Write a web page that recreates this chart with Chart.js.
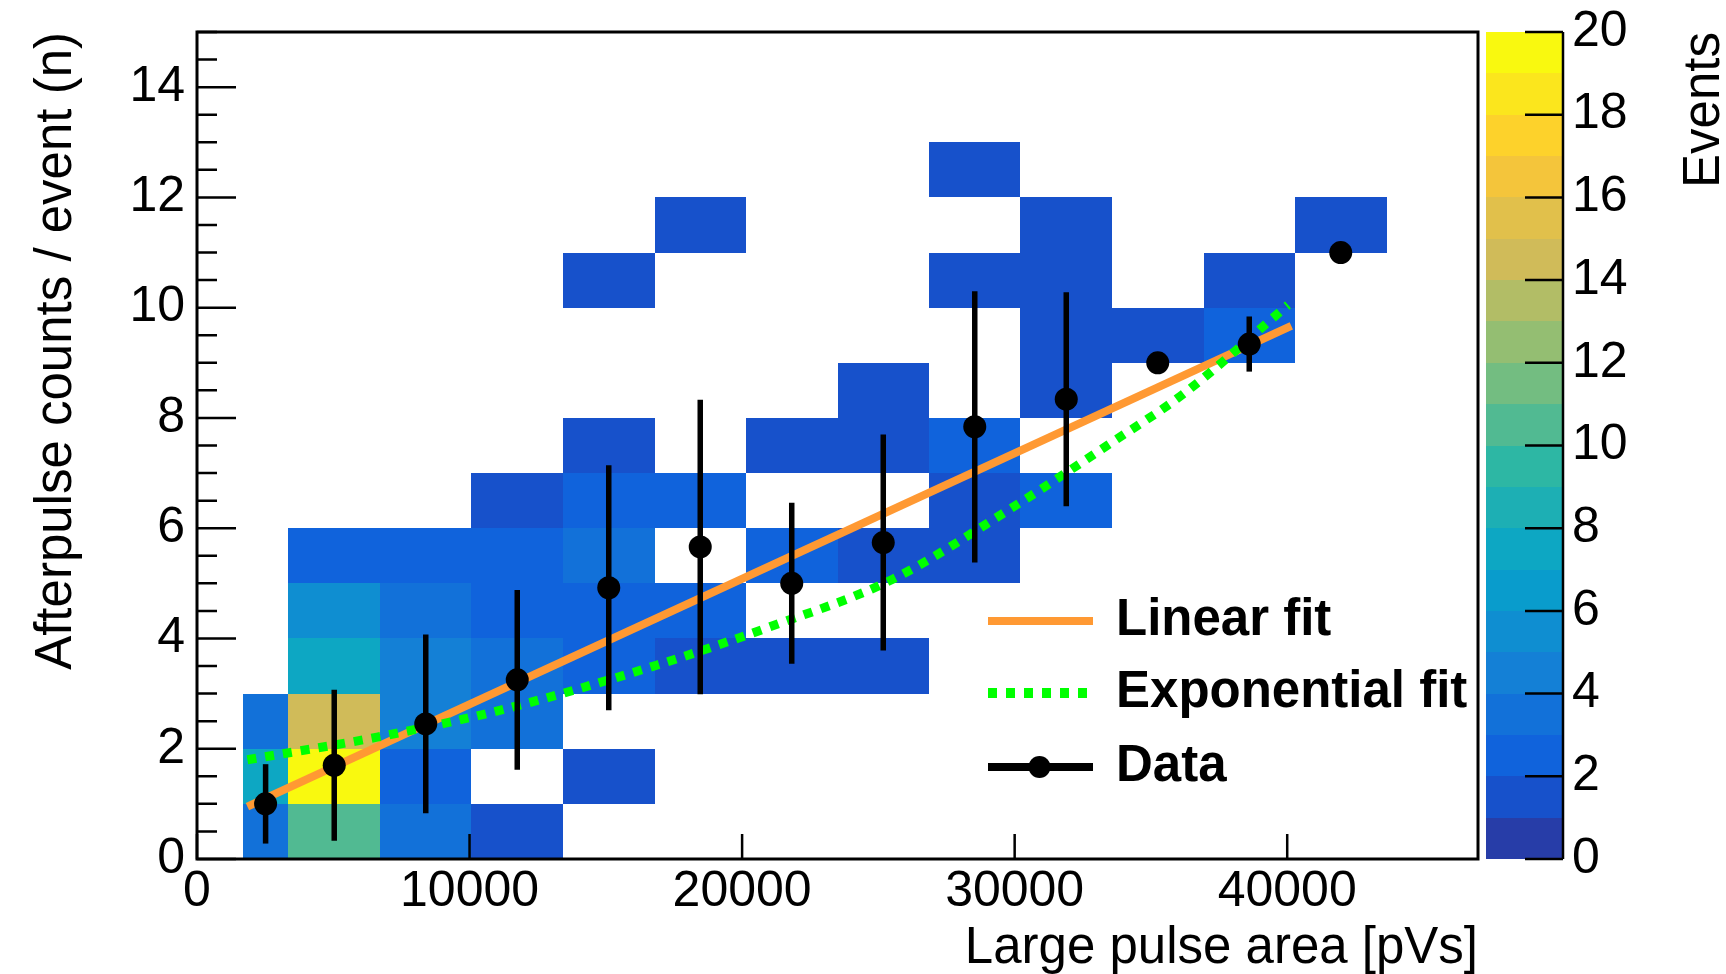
<!DOCTYPE html>
<html>
<head>
<meta charset="utf-8">
<script src="https://cdn.jsdelivr.net/npm/chart.js@4.4.0/dist/chart.umd.min.js"></script>
<style>
  html, body { margin: 0; padding: 0; background: #fff; }
</style>
</head>
<body>
<canvas id="c" width="1726" height="974"></canvas>
<script>
// 2D histogram: pulse area bins (pVs) x afterpulse count bins (n = 0, 1, 2, ...)
const xBinEdges = [1678, 3357, 6714, 10071, 13429, 16786, 20143, 23500, 26857, 30214, 33571, 36929, 40286, 43643];
// events per cell, one list per pulse-area bin, index = afterpulse count n
const histCounts = [
    [3, 7, 3],
    [10, 20, 14, 7, 5, 2],
    [3, 2, 4, 4, 3, 2],
    [1, 0, 3, 3, 2, 2, 1],
    [0, 1, 0, 2, 2, 3, 2, 1, 0, 0, 1],
    [0, 0, 0, 1, 2, 0, 2, 0, 0, 0, 0, 1],
    [0, 0, 0, 1, 0, 2, 0, 1],
    [0, 0, 0, 1, 0, 1, 0, 1, 1],
    [0, 0, 0, 0, 0, 1, 1, 2, 0, 0, 1, 0, 1],
    [0, 0, 0, 0, 0, 0, 2, 0, 1, 1, 1, 1],
    [0, 0, 0, 0, 0, 0, 0, 0, 0, 1],
    [0, 0, 0, 0, 0, 0, 0, 0, 0, 2, 1],
    [0, 0, 0, 0, 0, 0, 0, 0, 0, 0, 0, 1]
];

// mean afterpulse count per bin with error
const dataX = [2517, 5035, 8393, 11750, 15107, 18464, 21821, 25179, 28536, 31893, 35250, 38607, 41964];
const dataY = [1.0, 1.7, 2.45, 3.25, 4.92, 5.66, 5.0, 5.74, 7.84, 8.34, 9.0, 9.34, 11.0];
const dataErr = [0.72, 1.37, 1.62, 1.63, 2.22, 2.67, 1.46, 1.96, 2.46, 1.94, 0, 0.5, 0];

// fit curves
const linearFitX = [1850, 40150];
const linearFitY = [0.95, 9.67];
const expFitX = [1850, 6610, 11140, 16890, 20955, 25505, 29870, 33420, 36230, 40030];
const expFitY = [1.80, 2.21, 2.70, 3.52, 4.20, 5.07, 6.36, 7.51, 8.45, 10.05];

const xTickValues = [0, 10000, 20000, 30000, 40000];
const yTickValues = [0, 2, 4, 6, 8, 10, 12, 14];
const zTickValues = [0, 2, 4, 6, 8, 10, 12, 14, 16, 18, 20];

// ROOT kBird palette, 20 contour levels
const birdStops = [0, 0.125, 0.25, 0.375, 0.5, 0.625, 0.75, 0.875, 1];
const birdR = [0.2082, 0.0592, 0.0780, 0.0232, 0.1802, 0.5301, 0.8186, 0.9956, 0.9764];
const birdG = [0.1664, 0.3599, 0.5041, 0.6419, 0.7178, 0.7492, 0.7328, 0.7862, 0.9832];
const birdB = [0.5293, 0.8684, 0.8385, 0.7914, 0.6425, 0.4662, 0.3499, 0.1968, 0.0539];

function birdColor(f) {
    let k = 0;
    while (k < birdStops.length - 2 && f > birdStops[k + 1]) k++;
    const t = (f - birdStops[k]) / (birdStops[k + 1] - birdStops[k]);
    const c = arr => Math.round(255 * (arr[k] + (arr[k + 1] - arr[k]) * t));
    return `rgb(${c(birdR)},${c(birdG)},${c(birdB)})`;
}

const nLevels = 20;
const palette = [];
for (let i = 0; i < nLevels; i++) {
    palette.push(birdColor(Math.floor((i + 0.99) * 255 / nLevels) / 255));
}

const FONT = "'Liberation Sans', Arial, Helvetica, sans-serif";
const tickFont = { family: FONT, size: 50 };
const titleFont = { family: FONT, size: 51, lineHeight: 1.0 };
// invisible tick marks, only used to push the labels away from the axis
const hiddenGrid = len => ({ display: true, drawOnChartArea: false, drawTicks: true, tickLength: len, color: 'rgba(0,0,0,0)' });

const rootStyle = {
    id: 'rootStyle',
    beforeDatasetsDraw(chart) {
        const { ctx, chartArea: a, scales: { x, y } } = chart;
        ctx.save();
        ctx.beginPath();
        ctx.rect(a.left, a.top, a.right - a.left, a.bottom - a.top);
        ctx.clip();
        histCounts.forEach((col, i) => {
            const x0 = Math.round(x.getPixelForValue(xBinEdges[i]));
            const x1 = Math.round(x.getPixelForValue(xBinEdges[i + 1]));
            col.forEach((n, j) => {
                if (!n) return;
                const y0 = Math.round(y.getPixelForValue(j));
                const y1 = Math.round(y.getPixelForValue(j + 1));
                ctx.fillStyle = palette[Math.min(Math.floor(n + 0.01), nLevels - 1)];
                ctx.fillRect(x0, y1, x1 - x0, y0 - y1);
            });
        });
        ctx.restore();
    },
    beforeDatasetDraw(chart, args) {
        if (args.index !== 0) return;
        const { ctx, scales: { x, y } } = chart;
        ctx.save();
        ctx.strokeStyle = '#000';
        ctx.lineWidth = 5.5;
        dataX.forEach((v, i) => {
            if (!dataErr[i]) return;
            const px = x.getPixelForValue(v);
            ctx.beginPath();
            ctx.moveTo(px, y.getPixelForValue(dataY[i] - dataErr[i]));
            ctx.lineTo(px, y.getPixelForValue(dataY[i] + dataErr[i]));
            ctx.stroke();
        });
        ctx.restore();
    },
    afterDraw(chart) {
        const { ctx, chartArea: a, scales: { x, y, z } } = chart;
        ctx.save();
        ctx.strokeStyle = '#000';

        // frame
        ctx.lineWidth = 3;
        ctx.strokeRect(a.left, a.top, a.right - a.left, a.bottom - a.top);

        // inward ticks
        ctx.lineWidth = 2.5;
        ctx.beginPath();
        xTickValues.forEach(v => {
            const px = x.getPixelForValue(v);
            ctx.moveTo(px, a.bottom);
            ctx.lineTo(px, a.bottom - 25);
        });
        for (let v = 0; v <= 15; v += 0.5) {
            const py = y.getPixelForValue(v);
            const len = yTickValues.includes(v) ? 39 : 20;
            ctx.moveTo(a.left, py);
            ctx.lineTo(a.left + len, py);
        }
        ctx.stroke();

        // colour bar
        const cbL = a.right + 8, cbR = a.right + 85;
        for (let k = 0; k < nLevels; k++) {
            const y0 = Math.round(z.getPixelForValue(k));
            const y1 = Math.round(z.getPixelForValue(k + 1));
            ctx.fillStyle = palette[k];
            ctx.fillRect(cbL, y1, cbR - cbL, y0 - y1);
        }
        ctx.lineWidth = 2.5;
        ctx.beginPath();
        ctx.moveTo(cbR, z.getPixelForValue(0));
        ctx.lineTo(cbR, z.getPixelForValue(20));
        zTickValues.forEach(v => {
            const py = z.getPixelForValue(v);
            ctx.moveTo(cbR, py);
            ctx.lineTo(cbR - 38, py);
        });
        ctx.stroke();

        // colour axis title
        ctx.fillStyle = '#000';
        ctx.font = `51px ${FONT}`;
        ctx.translate(1705, a.top);
        ctx.rotate(-Math.PI / 2);
        ctx.textAlign = 'right';
        ctx.textBaseline = 'middle';
        ctx.fillText('Events', 0, 0);
        ctx.setTransform(1, 0, 0, 1, 0, 0);

        // legend
        const ds = chart.data.datasets;
        const lx0 = 988, lx1 = 1093, tx = 1116;
        const rows = [[ds[2], 621], [ds[1], 693], [ds[0], 767]];
        ctx.font = `bold 51px ${FONT}`;
        ctx.textAlign = 'left';
        ctx.textBaseline = 'middle';
        rows.forEach(([d, ly]) => {
            ctx.save();
            ctx.strokeStyle = d.legendColor;
            ctx.lineWidth = d.legendWidth;
            ctx.setLineDash(d.borderDash || []);
            ctx.beginPath();
            ctx.moveTo(lx0, ly);
            ctx.lineTo(lx1, ly);
            ctx.stroke();
            ctx.restore();
            if (d.label === 'Data') {
                ctx.beginPath();
                ctx.arc((lx0 + lx1) / 2 - 1, ly, 11, 0, 2 * Math.PI);
                ctx.fill();
            }
            ctx.fillText(d.label, tx, ly);
        });
        ctx.restore();
    }
};

new Chart(document.getElementById('c'), {
    type: 'line',
    data: {
        datasets: [
            {
                label: 'Data',
                data: dataX.map((v, i) => ({ x: v, y: dataY[i] })),
                showLine: false,
                pointRadius: 11.5,
                pointBackgroundColor: '#000',
                pointBorderWidth: 0,
                borderColor: '#000',
                legendColor: '#000',
                legendWidth: 8
            },
            {
                label: 'Exponential fit',
                data: expFitX.map((v, i) => ({ x: v, y: expFitY[i] })),
                borderColor: '#00ff00',
                borderWidth: 9,
                borderDash: [9, 9],
                cubicInterpolationMode: 'monotone',
                pointRadius: 0,
                fill: false,
                legendColor: '#00ff00',
                legendWidth: 10
            },
            {
                label: 'Linear fit',
                data: linearFitX.map((v, i) => ({ x: v, y: linearFitY[i] })),
                borderColor: '#ff9933',
                borderWidth: 8,
                pointRadius: 0,
                fill: false,
                legendColor: '#ff9933',
                legendWidth: 8
            }
        ]
    },
    options: {
        responsive: false,
        animation: false,
        devicePixelRatio: 1,
        layout: { padding: { top: 32, left: 0, right: 0, bottom: 0 } },
        plugins: { legend: { display: false }, tooltip: { enabled: false } },
        scales: {
            x: {
                type: 'linear',
                min: 0,
                max: 47000,
                afterFit: s => { s.height = 115; },
                afterBuildTicks: s => { s.ticks = xTickValues.map(v => ({ value: v })); },
                grid: hiddenGrid(3),
                border: { display: false },
                ticks: { font: tickFont, color: '#000', padding: 0, maxRotation: 0, autoSkip: false, callback: v => String(v) },
                title: { display: true, text: 'Large pulse area [pVs]', align: 'end', font: titleFont, color: '#000', padding: { top: 0, bottom: 0 } }
            },
            y: {
                type: 'linear',
                position: 'left',
                min: 0,
                max: 15,
                afterFit: s => { s.width = 197; },
                afterBuildTicks: s => { s.ticks = yTickValues.map(v => ({ value: v })); },
                grid: hiddenGrid(12),
                border: { display: false },
                ticks: { font: tickFont, color: '#000', padding: 0, autoSkip: false },
                title: { display: true, text: 'Afterpulse counts / event (n)', align: 'end', font: titleFont, color: '#000', padding: { top: 31, bottom: 0 } }
            },
            z: {
                type: 'linear',
                position: 'right',
                min: 0,
                max: 20,
                afterFit: s => { s.width = 248; },
                afterBuildTicks: s => { s.ticks = zTickValues.map(v => ({ value: v })); },
                grid: hiddenGrid(94),
                border: { display: false },
                ticks: { font: tickFont, color: '#000', padding: 0, autoSkip: false }
            }
        }
    },
    plugins: [rootStyle]
});
</script>
</body>
</html>
